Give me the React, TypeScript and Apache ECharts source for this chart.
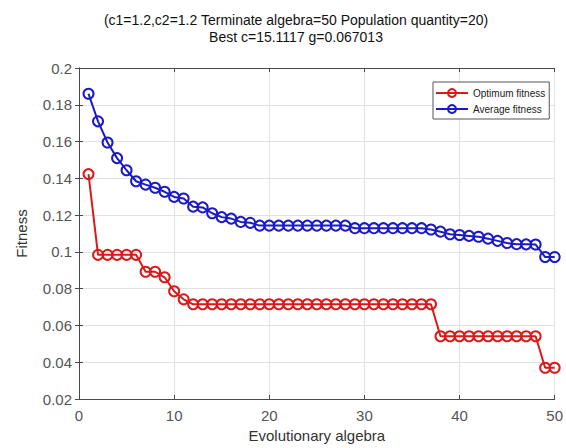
import React, { useEffect, useRef } from "react";
import * as echarts from "echarts";

const generations = Array.from({ length: 50 }, (_, i) => i + 1);

const optimumFitness = [
  0.1423, 0.0984, 0.0984, 0.0984, 0.0984, 0.0984, 0.0892, 0.0892, 0.0862, 0.0786,
  0.0742, 0.0715, 0.0715, 0.0715, 0.0715, 0.0715, 0.0715, 0.0715, 0.0715, 0.0715,
  0.0715, 0.0715, 0.0715, 0.0715, 0.0715, 0.0715, 0.0715, 0.0715, 0.0715, 0.0715,
  0.0715, 0.0715, 0.0715, 0.0715, 0.0715, 0.0715, 0.0715, 0.0541, 0.0541, 0.0541,
  0.0541, 0.0541, 0.0541, 0.0541, 0.0541, 0.0541, 0.0541, 0.0541, 0.037, 0.037,
];

const averageFitness = [
  0.186, 0.171, 0.1595, 0.151, 0.1444, 0.1384, 0.1366, 0.1349, 0.1327, 0.1299,
  0.129, 0.1246, 0.1242, 0.121, 0.1189, 0.1181, 0.1163, 0.1158, 0.1143, 0.1143,
  0.1143, 0.1143, 0.1143, 0.1143, 0.1143, 0.1143, 0.1143, 0.1143, 0.1129, 0.1129,
  0.1129, 0.1129, 0.1129, 0.1129, 0.1129, 0.1129, 0.1122, 0.111, 0.1096, 0.1092,
  0.1087, 0.1082, 0.1072, 0.106, 0.1048, 0.1042, 0.1041, 0.104, 0.0972, 0.0972,
];

const titleLines = [
  "(c1=1.2,c2=1.2 Terminate algebra=50 Population quantity=20)",
  "Best c=15.1117 g=0.067013",
];

const RED = "#d91a1a";
const BLUE = "#1a1ac8";
const FONT = "Liberation Sans, Arial, sans-serif";

export default function App() {
  const ref = useRef<HTMLDivElement>(null);
  useEffect(() => {
    if (!ref.current) return;
    const chart = echarts.init(ref.current, null, { renderer: "svg" });
    const axisLine = { show: true, lineStyle: { color: "#4a4a4a", width: 1 } };
    const fmt = (v: number) => String(parseFloat(v.toFixed(3)));
    chart.setOption({
      animation: false,
      backgroundColor: "#fff",
      textStyle: { fontFamily: FONT },
      title: {
        text: titleLines.join("\n"),
        left: 291,
        top: 6,
        textAlign: "center",
        textStyle: { fontSize: 14, fontWeight: "normal", color: "#111", lineHeight: 17, fontFamily: FONT },
      },
      grid: { left: 79, right: 7, top: 68, bottom: 42, containLabel: false },
      legend: {
        orient: "vertical",
        left: 433,
        top: 82,
        padding: [6, 4, 5, 2],
        itemGap: 6,
        itemWidth: 32,
        itemHeight: 10,
        borderColor: "#555",
        borderWidth: 1,
        backgroundColor: "#fff",
        textStyle: { fontSize: 10, color: "#222", fontFamily: FONT },
        data: ["Optimum fitness", "Average fitness"],
      },
      xAxis: [
        {
          type: "value",
          min: 0,
          max: 50,
          interval: 10,
          name: "Evolutionary algebra",
          nameLocation: "middle",
          nameGap: 29,
          nameTextStyle: { fontSize: 15, color: "#333", fontFamily: FONT },
          axisLine,
          axisTick: { show: true, inside: true, length: 4, lineStyle: { color: "#4a4a4a" } },
          axisLabel: { fontSize: 15, color: "#555", margin: 9, formatter: fmt },
          splitLine: { show: true, lineStyle: { color: "#e2e2e2", width: 1 } },
        },
        {
          type: "value",
          position: "top",
          min: 0,
          max: 50,
          interval: 10,
          axisLine,
          axisTick: { show: true, inside: true, length: 4, lineStyle: { color: "#4a4a4a" } },
          axisLabel: { show: false },
          splitLine: { show: false },
        },
      ],
      yAxis: [
        {
          type: "value",
          min: 0.02,
          max: 0.2,
          interval: 0.02,
          name: "Fitness",
          nameLocation: "middle",
          nameGap: 50,
          nameTextStyle: { fontSize: 15, color: "#333", fontFamily: FONT },
          axisLine,
          axisTick: { show: true, inside: true, length: 4, lineStyle: { color: "#4a4a4a" } },
          axisLabel: { fontSize: 15, color: "#555", margin: 7, formatter: fmt },
          splitLine: { show: true, lineStyle: { color: "#e2e2e2", width: 1 } },
        },
        {
          type: "value",
          position: "right",
          min: 0.02,
          max: 0.2,
          interval: 0.02,
          axisLine,
          axisTick: { show: true, inside: true, length: 4, lineStyle: { color: "#4a4a4a" } },
          axisLabel: { show: false },
          splitLine: { show: false },
        },
      ],
      series: [
        {
          name: "Optimum fitness",
          type: "line",
          data: generations.map((g, i) => [g, optimumFitness[i]]),
          symbol: "circle",
          symbolSize: 10,
          showAllSymbol: true,
          color: RED,
          lineStyle: { color: RED, width: 2 },
          itemStyle: { color: "rgba(255,255,255,0)", borderColor: RED, borderWidth: 2 },
        },
        {
          name: "Average fitness",
          type: "line",
          data: generations.map((g, i) => [g, averageFitness[i]]),
          symbol: "circle",
          symbolSize: 10,
          showAllSymbol: true,
          color: BLUE,
          lineStyle: { color: BLUE, width: 2 },
          itemStyle: { color: "rgba(255,255,255,0)", borderColor: BLUE, borderWidth: 2 },
        },
      ],
    });
    return () => chart.dispose();
  }, []);
  return <div ref={ref} style={{ width: 566, height: 448, position: "absolute", left: 0, top: 0 }} />;
}
